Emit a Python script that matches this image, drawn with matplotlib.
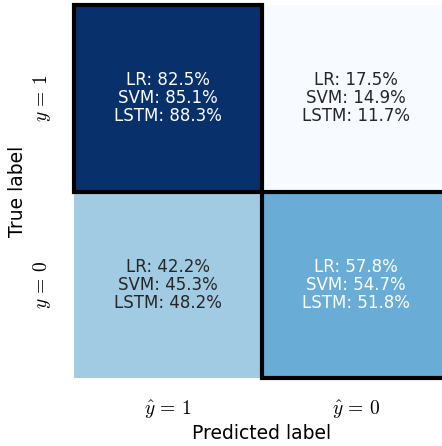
import numpy as np
import matplotlib
matplotlib.use("Agg")
import matplotlib.pyplot as plt
from matplotlib.patches import Rectangle
from matplotlib.colors import to_rgb, PowerNorm

plt.rcParams['mathtext.fontset'] = 'cm'

models = ["LR", "SVM", "LSTM"]
# rows: true y=1, y=0 ; cols: predicted y=1, y=0
lr = [[82.5, 17.5], [42.2, 57.8]]
svm = [[85.1, 14.9], [45.3, 54.7]]
lstm = [[88.3, 11.7], [48.2, 51.8]]
xticklabels = [r"$\hat{y}\,=\,1$", r"$\hat{y}\,=\,0$"]
yticklabels = [r"$y\,=\,1$", r"$y\,=\,0$"]

vals = np.array([lr, svm, lstm])
mean = vals.mean(axis=0)


def rel_lum(c):
    c = np.array(to_rgb(c))
    c = np.where(c <= 0.03928, c / 12.92, ((c + 0.055) / 1.055) ** 2.4)
    return 0.2126 * c[0] + 0.7152 * c[1] + 0.0722 * c[2]


fig = plt.figure(figsize=(4.42, 4.46), dpi=100)
ax = fig.add_axes([74/442, 68/446, 376/442, 373/446])
cmap = plt.get_cmap("Blues")
norm = PowerNorm(gamma=1.2, vmin=mean.min(), vmax=mean.max())
im = ax.imshow(mean, cmap=cmap, norm=norm, aspect="auto")

for i in range(2):
    for j in range(2):
        txt = "\n".join(f"{m}: {v[i][j]:.1f}%" for m, v in zip(models, [lr, svm, lstm]))
        col = "white" if rel_lum(cmap(norm(mean[i, j]))) < 0.408 else "#262626"
        ax.text(j, i, txt, ha="center", va="center", color=col, fontsize=12,
                linespacing=1.0)

for k in range(2):
    ax.add_patch(Rectangle((k - 0.5, k - 0.5), 1, 1, fill=False, edgecolor="black",
                           lw=3, clip_on=False, zorder=5))

ax.set_xticks([0, 1])
ax.set_xticklabels(xticklabels, fontsize=14)
ax.set_yticks([0, 1])
ax.set_yticklabels(yticklabels, fontsize=14, rotation=90, va="center")
ax.tick_params(length=0, pad=15)
ax.set_xlabel("Predicted label", fontsize=13.5, labelpad=2)
ax.set_ylabel("True label", fontsize=13.5, labelpad=3)
for s in ax.spines.values():
    s.set_visible(False)

fig.savefig("out.png", dpi=100)
